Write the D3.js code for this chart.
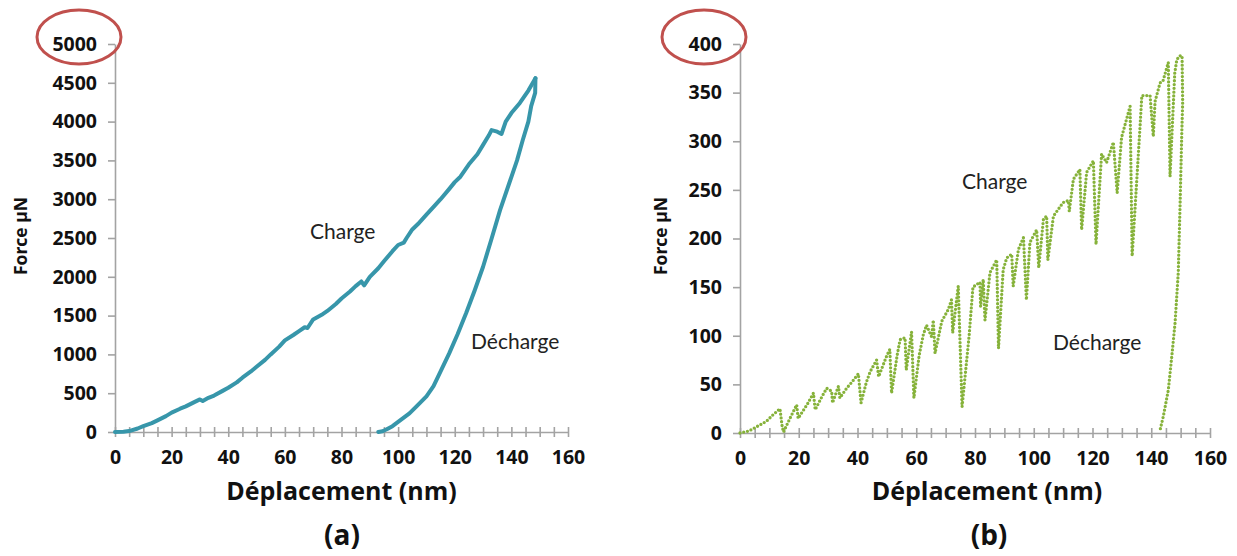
<!DOCTYPE html>
<html>
<head>
<meta charset="utf-8">
<script src="https://cdn.jsdelivr.net/npm/d3@7"></script>
<style>
  html, body { margin: 0; padding: 0; background: #fff; }
  svg { display: block; }
</style>
</head>
<body>
<script>
// ---------------- DATA ----------------
const xTickValues = d3.range(0, 161, 5);          // minor ticks every 5 nm
const xTickLabels = [0, 20, 40, 60, 80, 100, 120, 140, 160];
const yTickLabelsA = [0, 500, 1000, 1500, 2000, 2500, 3000, 3500, 4000, 4500, 5000];
const yTickLabelsB = [0, 50, 100, 150, 200, 250, 300, 350, 400];

// Panel (a): load (Charge) and unload (Décharge) curves [displacement nm, force µN]
const chargeA = [
  [0,0],[3,2],[5,12],[8,45],[10,75],[13,115],[15,150],[18,205],[20,250],[23,300],[25,330],
  [28,385],[30,420],[31,400],[33,440],[35,470],[38,530],[40,570],[43,640],[45,700],[48,780],
  [50,840],[53,930],[55,1000],[58,1100],[60,1180],[63,1250],[65,1300],[67,1350],[68,1340],
  [70,1450],[73,1510],[75,1560],[78,1650],[80,1720],[83,1810],[85,1880],[87,1940],[88,1890],
  [90,2000],[93,2110],[95,2200],[98,2330],[100,2410],[102,2440],[103,2500],[105,2610],[107,2680],
  [110,2800],[113,2920],[115,3000],[118,3130],[120,3220],[122,3290],[125,3450],[128,3580],
  [130,3700],[132,3820],[133,3890],[135,3870],[136.5,3840],[138,4000],[140,4110],[143,4240],
  [146,4400],[148.5,4560]
];
const dechargeA = [
  [148.5,4560],[148.4,4370],[147,4200],[146,4000],[144,3760],[142,3500],[139,3180],[136,2860],
  [133,2490],[130,2130],[127,1820],[124,1530],[121,1260],[118,1010],[115,780],[112.5,590],
  [110,460],[106.5,330],[104,240],[100.7,150],[98,75],[96,35],[94.5,10],[93,0]
];

// Panel (b): serrated load curve (Charge) and unload curve (Décharge) [nm, µN]
const chargeB = [
  [0,0],[3,2],[6,7],[9,12],[11,18],[13.6,25],
  [14.3,8],[14.8,1],[17,15],[19.3,29],
  [19.8,15],[23,30],[25,41],
  [25.6,24],[28,38],[29.5,46],[31.2,43],
  [31.5,31],[33.5,48],
  [34,36],[36.3,46],[38,52],[40.3,61],
  [41.2,31],[43,52],[44.3,63],[46.5,75],
  [47.2,58],[49.9,79],[51,86],
  [51.6,41],[53.5,80],[54.5,96],[56.2,98],
  [56.6,65],[58.4,104],
  [59.2,36],[61,80],[62.4,101],[63.5,111],[65.2,99],[65.8,116],
  [66.4,82],[68.7,115],[70.9,127],[72,137],
  [72.4,103],[74.3,151],
  [75.6,27],[78,100],[79.3,150],[81.7,155],
  [81.9,130],[82.8,158],
  [83.4,116],[85.1,165],[87.4,178],
  [88,87],[89.6,168],[90.8,180],[92.5,184],
  [93,151],[94.8,189],[96.5,201],
  [97.5,137],[98.7,196],[101,209],
  [101.7,170],[103.3,220],[104.4,223],
  [104.8,178],[106.7,223],[110,237],[111.8,239],
  [112.1,228],[113.5,261],[115.7,271],
  [116.3,209],[118,268],[120.3,280],
  [121.2,194],[123.1,287],[124.8,278],[127.1,299],
  [128.4,247],[129.9,304],[132.8,336],
  [133.5,182],[136.2,316],[136.8,347],[139.6,347],[140.7,305],[141.3,341],[143,360],[144,362],[145.8,381],
  [146.4,264],[148,370],[148.7,384],[149.8,388],[150.5,386]
];
const dechargeB = [
  [150.5,386],[150.7,340],[150.4,309],[149.8,233],[149.2,165],[148.1,113],[147,79],
  [145.8,44],[144.1,17],[143,3]
];

// ---------------- DRAW ----------------
const W = 1237, H = 556;
const svg = d3.select("body").append("svg").attr("width", W).attr("height", H);
const BOLD = "'Open Sans', Lato, 'DejaVu Sans', sans-serif";
const REG = "Lato, 'Open Sans', sans-serif";
const AXIS = "#a3a3a3";

function drawPanel(p) {
  const x = d3.scaleLinear().domain([0, 160]).range([p.x0, p.x1]);
  const y = d3.scaleLinear().domain([0, p.ymax]).range([p.y0, p.y1]);
  const g = svg.append("g");

  // X axis with cross ticks
  const xa = g.append("g").attr("transform", `translate(0,${p.y0})`)
    .call(d3.axisBottom(x).tickValues(xTickValues).tickSizeInner(5).tickSizeOuter(0).tickPadding(13)
      .tickFormat(d => xTickLabels.includes(d) ? String(d) : ""));
  xa.select(".domain").attr("stroke", AXIS).attr("stroke-width", 1.6);
  xa.selectAll(".tick line").attr("stroke", AXIS).attr("stroke-width", 1.6).attr("y1", -5).attr("y2", 5);
  xa.selectAll(".tick text").attr("font-family", BOLD).attr("font-weight", "bold")
    .attr("font-size", 19.5).attr("fill", "#111");

  // Y axis
  const ya = g.append("g").attr("transform", `translate(${p.x0},0)`)
    .call(d3.axisLeft(y).tickValues(p.yTicks).tickSizeInner(7).tickSizeOuter(0).tickPadding(11)
      .tickFormat(d => String(d)));
  ya.select(".domain").attr("stroke", AXIS).attr("stroke-width", 1.6);
  ya.selectAll(".tick line").attr("stroke", AXIS).attr("stroke-width", 1.6);
  ya.selectAll(".tick text").attr("font-family", BOLD).attr("font-weight", "bold")
    .attr("font-size", 19.5).attr("fill", "#111");

  // titles
  g.append("text").attr("x", (p.x0 + p.x1) / 2 + p.xtDx).attr("y", 500)
    .attr("text-anchor", "middle").attr("font-family", BOLD).attr("font-weight", "bold")
    .attr("font-size", 25).attr("fill", "#111").text("Déplacement (nm)");
  g.append("text").attr("transform", `translate(${p.ytX},${236}) rotate(-90)`)
    .attr("text-anchor", "middle").attr("font-family", BOLD).attr("font-weight", "bold")
    .attr("font-size", 17.5).attr("fill", "#111").text("Force µN");
  g.append("text").attr("x", p.capX).attr("y", 545)
    .attr("text-anchor", "middle").attr("font-family", BOLD).attr("font-weight", "bold")
    .attr("font-size", 28).attr("fill", "#111").text(p.caption);

  // annotations
  p.notes.forEach(n => {
    g.append("text").attr("x", n.x).attr("y", n.y).attr("font-family", REG)
      .attr("font-size", 21).attr("fill", "#222").text(n.t);
  });

  // red ellipse around top label
  g.append("ellipse").attr("cx", p.x0 - 36).attr("cy", y(p.ymax) - 7)
    .attr("rx", 42).attr("ry", 27).attr("fill", "none")
    .attr("stroke", "#c0504d").attr("stroke-width", 3);

  return { g, x, y };
}

// Panel (a)
const A = drawPanel({
  x0: 115, x1: 568, y0: 432, y1: 44, ymax: 5000, yTicks: yTickLabelsA,
  xtDx: 0, ytX: 27, capX: 342, caption: "(a)",
  notes: [{ x: 310, y: 239, t: "Charge" }, { x: 471, y: 349, t: "Décharge" }]
});
const lineA = d3.line().x(d => A.x(d[0])).y(d => A.y(d[1]));
[chargeA, dechargeA].forEach(s => {
  A.g.append("path").datum(s).attr("d", lineA).attr("fill", "none")
    .attr("stroke", "#3796aa").attr("stroke-width", 4)
    .attr("stroke-linejoin", "round").attr("stroke-linecap", "round");
});

// Panel (b)
const B = drawPanel({
  x0: 740, x1: 1210, y0: 433, y1: 44, ymax: 400, yTicks: yTickLabelsB,
  xtDx: 12, ytX: 667, capX: 989, caption: "(b)",
  notes: [{ x: 962, y: 189, t: "Charge" }, { x: 1053, y: 350, t: "Décharge" }]
});
const lineB = d3.line().x(d => B.x(d[0])).y(d => B.y(d[1]));
[chargeB, dechargeB].forEach(s => {
  B.g.append("path").datum(s).attr("d", lineB).attr("fill", "none")
    .attr("stroke", "#86b23a").attr("stroke-width", 3.3)
    .attr("stroke-dasharray", "0 3.8").attr("stroke-linecap", "round")
    .attr("stroke-linejoin", "round");
});
</script>
</body>
</html>
